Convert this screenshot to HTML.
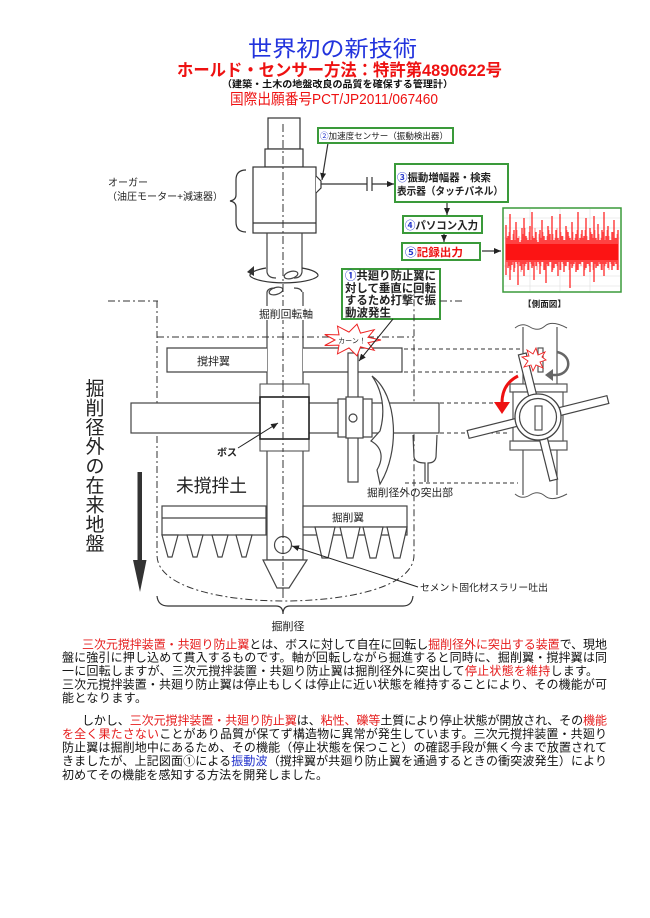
<!DOCTYPE html>
<html><head><meta charset="utf-8">
<style>
html,body{margin:0;padding:0;background:#fff;}
body{width:650px;height:918px;overflow:hidden;}
svg{display:block;font-family:"Liberation Sans","Noto Sans CJK JP",sans-serif;}
</style></head>
<body>
<svg width="650" height="918" viewBox="0 0 650 918" xmlns="http://www.w3.org/2000/svg">
<defs>
<marker id="ah" markerWidth="8" markerHeight="8" refX="7" refY="4" orient="auto" markerUnits="userSpaceOnUse">
<path d="M0,1 L7,4 L0,7 Z" fill="#222"/>
</marker>
</defs>

<!-- Title -->
<text x="332.5" y="56.5" font-size="22" fill="#2233dd" text-anchor="middle" textLength="169" lengthAdjust="spacingAndGlyphs">世界初の新技術</text>
<text x="339.5" y="76" font-size="17" font-weight="bold" fill="#ee1111" text-anchor="middle" textLength="325" lengthAdjust="spacingAndGlyphs">ホールド・センサー方法：特許第4890622号</text>
<text x="337.5" y="87.5" font-size="9.5" font-weight="bold" fill="#111" text-anchor="middle" textLength="231" lengthAdjust="spacingAndGlyphs">（建築・土木の地盤改良の品質を確保する管理計）</text>
<text x="334" y="104" font-size="15" fill="#ee1111" text-anchor="middle" textLength="208" lengthAdjust="spacingAndGlyphs">国際出願番号PCT/JP2011/067460</text>

<!-- ===== Top diagram ===== -->
<g stroke="#333" stroke-width="1.2" fill="#fff">
<rect x="268" y="118" width="32" height="31"/>
<rect x="265" y="149" width="38" height="18"/>
<rect x="253" y="167" width="63" height="66"/>
<line x1="253" y1="223" x2="316" y2="223"/>
<path d="M316,176 L321,181 L321,188 L316,193"/>
</g>
<!-- upper shaft (below auger) -->
<g stroke="#444" stroke-width="1.2" fill="none">
<path d="M267,233 V272 Q268,278 276,278 M302,233 V272 Q301,278 294,278"/>
<path d="M267,292 Q268,288 275,288 M302,292 Q301,288 294,288"/>
<line x1="267" y1="292" x2="267" y2="560"/>
<line x1="303" y1="292" x2="303" y2="560"/>
<ellipse cx="291" cy="275" rx="7" ry="3.5" transform="rotate(-15 291 275)"/>
<ellipse cx="276" cy="291" rx="7" ry="3.5" transform="rotate(-15 276 291)"/>
</g>
<!-- rotation ellipse arrow -->
<g stroke="#333" stroke-width="1.2" fill="none">
<path d="M318,276 A35,9 0 0 1 250,276"/>
<path d="M250,276 A35,9 0 0 1 266,268"/>
<path d="M302,268 A35,9 0 0 1 318,276"/>
</g>
<path d="M247,272 L254,266 L254,276 Z" fill="#333"/>

<!-- centerline -->
<line x1="283" y1="124" x2="283" y2="598" stroke="#333" stroke-width="1" stroke-dasharray="8,3,2,3"/>

<!-- brace for auger -->
<path d="M246,170 Q236,170 236,180 V195 Q236,200 230,201 Q236,202 236,207 V222 Q236,232 246,232" fill="none" stroke="#333" stroke-width="1.2"/>
<text x="108" y="186" font-size="10" fill="#222">オーガー</text>
<text x="107" y="200" font-size="10" fill="#222" textLength="116" lengthAdjust="spacingAndGlyphs">（油圧モーター+減速器）</text>

<!-- sensor line + capacitor -->
<g stroke="#333" stroke-width="1.2">
<line x1="321" y1="184" x2="367" y2="184"/>
<line x1="367" y1="177" x2="367" y2="191"/>
<line x1="372" y1="177" x2="372" y2="191"/>
<line x1="372" y1="184" x2="394" y2="184" marker-end="url(#ah)"/>
<line x1="328" y1="143" x2="322" y2="180" marker-end="url(#ah)"/>
<line x1="447" y1="202" x2="447" y2="215" marker-end="url(#ah)"/>
<line x1="444" y1="233" x2="444" y2="242" marker-end="url(#ah)"/>
<line x1="482" y1="251" x2="501" y2="251" marker-end="url(#ah)"/>
</g>

<!-- boxes -->
<g fill="#fff" stroke="#3a9a3a" stroke-width="2">
<rect x="318" y="128" width="135" height="15"/>
<rect x="395" y="164" width="113" height="38"/>
<rect x="403" y="216" width="79" height="17"/>
<rect x="402" y="243" width="78" height="17"/>
<rect x="342" y="269" width="98" height="50"/>
</g>
<text x="320" y="139" font-size="8.7" fill="#222" textLength="128" lengthAdjust="spacingAndGlyphs"><tspan fill="#2233cc">②</tspan>加速度センサー（振動検出器）</text>
<text x="397" y="181" font-size="10.5" font-weight="bold" fill="#222" textLength="94" lengthAdjust="spacingAndGlyphs"><tspan fill="#2233cc">③</tspan>振動増幅器・検索</text>
<text x="397" y="194.5" font-size="10.5" font-weight="bold" fill="#222" textLength="106" lengthAdjust="spacingAndGlyphs">表示器（タッチパネル）</text>
<text x="405" y="229" font-size="11" font-weight="bold" fill="#222" textLength="73" lengthAdjust="spacingAndGlyphs"><tspan fill="#2233cc">④</tspan>パソコン入力</text>
<text x="405" y="256" font-size="11" font-weight="bold" fill="#ee1111" textLength="58" lengthAdjust="spacingAndGlyphs"><tspan fill="#2233cc">⑤</tspan>記録出力</text>
<g font-size="11.5" font-weight="bold" fill="#222">
<text x="345" y="279.5" textLength="91" lengthAdjust="spacingAndGlyphs"><tspan fill="#2233cc">①</tspan>共廻り防止翼に</text>
<text x="345" y="292" textLength="91" lengthAdjust="spacingAndGlyphs">対して垂直に回転</text>
<text x="345" y="304" textLength="91" lengthAdjust="spacingAndGlyphs">するため打撃で振</text>
<text x="345" y="316.5" textLength="46" lengthAdjust="spacingAndGlyphs">動波発生</text>
</g>

<!-- waveform graph -->
<rect x="503" y="208" width="118" height="84" fill="#fff" stroke="#3a9a3a" stroke-width="1.5"/>
<g stroke="#ddd" stroke-width="0.6">
<line x1="504" y1="218" x2="620" y2="218"/><line x1="504" y1="228" x2="620" y2="228"/>
<line x1="504" y1="238" x2="620" y2="238"/><line x1="504" y1="266" x2="620" y2="266"/>
<line x1="504" y1="276" x2="620" y2="276"/><line x1="504" y1="286" x2="620" y2="286"/>
<line x1="530" y1="209" x2="530" y2="291"/><line x1="560" y1="209" x2="560" y2="291"/><line x1="590" y1="209" x2="590" y2="291"/>
</g>
<rect x="506" y="244" width="112" height="16" fill="#f20000"/>
<path stroke="#f00" stroke-width="1.1" fill="none" d="M506,225V275M508,236V268M510,214V280M512,240V265M514,230V272M516,222V262M518,238V285M520,242V266M522,228V270M524,218V276M526,236V264M528,240V270M530,226V262M532,212V268M534,238V280M536,232V266M538,242V262M540,230V274M542,220V262M544,236V270M546,240V283M548,226V266M550,234V262M552,216V272M554,240V268M556,230V264M558,238V276M560,214V270M562,236V262M564,240V272M566,226V266M568,232V262M570,238V288M572,222V268M574,240V264M576,234V272M578,212V270M580,238V264M582,230V262M584,236V276M586,218V268M588,240V264M590,228V272M592,234V262M594,216V282M596,238V268M598,224V266M600,240V264M602,230V270M604,212V276M606,236V264M608,226V268M610,240V262M612,232V270M614,220V266M616,238V264M618,230V270"/>
<path stroke="#f44" stroke-width="0.6" fill="none" d="M507,238V262M509,232V266M511,240V270M513,234V262M515,240V268M517,230V264M519,236V262M521,240V272M523,234V264M525,228V266M527,238V262M529,232V270M531,240V264M533,236V266M535,228V262M537,240V270M539,234V264M541,238V266M543,232V262M545,240V270M547,236V264M549,230V266M551,240V262M553,234V270M555,238V264M557,228V266M559,240V262M561,232V270M563,236V264M565,240V266M567,230V262M569,236V270M571,240V264M573,232V266M575,238V262M577,230V270M579,240V264M581,234V266M583,238V262M585,230V270M587,236V264M589,240V266M591,232V262M593,238V270M595,230V264M597,240V266M599,234V262M601,238V270M603,232V264M605,240V266M607,230V262M609,236V270M611,240V264M613,232V266M615,238V262M617,234V270"/>
<text x="523" y="307" font-size="8.5" font-weight="bold" fill="#222" textLength="43" lengthAdjust="spacingAndGlyphs">【側面図】</text>

<!-- ===== Middle diagram ===== -->
<!-- dash-dot outline -->
<g stroke="#333" stroke-width="1" fill="none" stroke-dasharray="7,3,2,3">
<line x1="108" y1="301" x2="158" y2="301"/>
<line x1="440" y1="301" x2="462" y2="301"/>
<line x1="157" y1="337" x2="414" y2="337"/>
<path d="M157,301 V555 C157,588 225,601 283,601 C345,601 414,588 414,555 V290"/>
</g>
<!-- white label on shaft -->
<rect x="258" y="306" width="58" height="14" fill="#fff"/>
<text x="286" y="317.5" font-size="10.5" fill="#222" text-anchor="middle" textLength="54" lengthAdjust="spacingAndGlyphs">掘削回転軸</text>

<!-- stirring blade -->
<g stroke="#444" stroke-width="1.2" fill="#fff">
<path d="M267,348 H167 V372 H267"/>
<path d="M303,348 H402 V372 H303"/>
</g>
<text x="197" y="365" font-size="11" fill="#222" textLength="33" lengthAdjust="spacingAndGlyphs">撹拌翼</text>

<!-- right dashed lines -->
<g stroke="#333" stroke-width="1" stroke-dasharray="4,3">
<line x1="404" y1="349" x2="520" y2="349"/>
<line x1="404" y1="372" x2="518" y2="372"/>
<line x1="440" y1="403" x2="508" y2="403"/>
<line x1="440" y1="433" x2="510" y2="433"/>
<line x1="405" y1="483" x2="518" y2="483"/>
</g>

<!-- main bar -->
<rect x="131" y="403" width="308" height="30" fill="#fff" stroke="#444" stroke-width="1.2"/>
<!-- boss -->
<rect x="260" y="384" width="49" height="67" fill="#fff" stroke="#555" stroke-width="1.1"/>
<rect x="260" y="397" width="49" height="42" fill="#fff" stroke="#222" stroke-width="1.6"/>
<line x1="283" y1="384" x2="283" y2="451" stroke="#333" stroke-width="1" stroke-dasharray="8,3,2,3"/>
<text x="217" y="456" font-size="10" font-weight="bold" fill="#222">ボス</text>
<line x1="238" y1="448" x2="278" y2="423" stroke="#222" stroke-width="1" marker-end="url(#ah)"/>

<!-- anti co-rotation blade -->
<g stroke="#444" stroke-width="1.2" fill="#fff">
<rect x="348" y="353" width="10" height="129"/>
<rect x="338" y="399" width="8" height="38"/>
<rect x="363" y="399" width="9" height="38"/>
<rect x="346" y="397" width="17" height="41"/>
<circle cx="353" cy="418" r="4"/>
<path d="M372,376 C398,395 400,452 380,484 L377,470 C384,458 382,447 371,441 L380,431 C386,410 382,390 372,376 Z"/>
<path d="M413,435 L414,457 Q415,463 425,463 L425,482 M437,435 L436,457 Q435,463 428,463 L428,482" fill="none"/>
</g>
<text x="367" y="496" font-size="10.5" fill="#222" textLength="86" lengthAdjust="spacingAndGlyphs">掘削径外の突出部</text>

<!-- starburst -->
<polygon points="381,340 368,342.7 374.2,350.3 360.5,346.9 357,355.8 349,347.9 337.5,353.9 339,345.1 324.7,345.5 335,340 324.7,334.5 339,334.9 337.5,326.1 349,332.1 357,324.2 360.5,333.1 374.2,329.7 368,337.3" fill="#fff" stroke="#e22" stroke-width="1"/>
<text x="352" y="343" font-size="7" fill="#222" text-anchor="middle">カーン！</text>
<line x1="393" y1="319" x2="359" y2="361" stroke="#222" stroke-width="1" marker-end="url(#ah)"/>

<!-- vertical text -->
<g font-size="19" fill="#222" text-anchor="middle">
<text x="95" y="395">掘</text><text x="95" y="414.4">削</text><text x="95" y="433.8">径</text>
<text x="95" y="453.2">外</text><text x="95" y="472.6">の</text><text x="95" y="492">在</text>
<text x="95" y="511.4">来</text><text x="95" y="530.8">地</text><text x="95" y="550.2">盤</text>
</g>
<!-- black arrow -->
<rect x="137.5" y="472" width="4.5" height="90" fill="#333"/>
<polygon points="133,560 146.5,560 140,592" fill="#333"/>

<text x="176" y="492" font-size="18" fill="#222" textLength="71" lengthAdjust="spacingAndGlyphs">未撹拌土</text>

<!-- bottom blades -->
<g stroke="#444" stroke-width="1.2" fill="#fff">
<rect x="162" y="506" width="104" height="29"/>
<line x1="162" y1="518" x2="266" y2="518"/>
<path d="M303,535 H407 V527"/>
<rect x="303" y="506" width="104" height="21"/>
<polygon points="162,535 178,535 172,557 168,557"/>
<polygon points="187,535 203,535 197,557 193,557"/>
<polygon points="212,535 228,535 222,557 218,557"/>
<polygon points="236,535 252,535 246,557 242,557"/>
<polygon points="315,527 335,527 328,558 322,558"/>
<polygon points="340,527 360,527 353,558 347,558"/>
<polygon points="363,527 383,527 376,558 370,558"/>
<polygon points="387,527 407,527 400,558 394,558"/>
<line x1="267" y1="560" x2="303" y2="560"/>
<polygon points="263,560 307,560 289,588 277,588"/>
<circle cx="283" cy="545" r="8.5"/>
</g>
<line x1="283" y1="530" x2="283" y2="598" stroke="#333" stroke-width="1" stroke-dasharray="8,3,2,3"/>
<text x="332" y="521" font-size="10.5" fill="#222" textLength="32" lengthAdjust="spacingAndGlyphs">掘削翼</text>
<line x1="418" y1="587" x2="292" y2="546" stroke="#222" stroke-width="1" marker-end="url(#ah)"/>
<text x="420" y="591" font-size="9.8" fill="#222" textLength="128" lengthAdjust="spacingAndGlyphs">セメント固化材スラリー吐出</text>

<!-- brace bottom -->
<path d="M157,596 Q158,606 168,606 H276 Q283,606 283,614 Q283,606 290,606 H403 Q412,606 413,596" fill="none" stroke="#333" stroke-width="1.2"/>
<text x="288" y="630" font-size="11" fill="#222" text-anchor="middle" textLength="33" lengthAdjust="spacingAndGlyphs">掘削径</text>

<!-- ===== Right side view ===== -->
<g stroke="#555" stroke-width="1.2" fill="#fff">
<rect x="523" y="327" width="34" height="168" stroke="none"/>
<line x1="523" y1="327" x2="523" y2="495"/>
<line x1="557" y1="327" x2="557" y2="495"/>
<path d="M515,328 Q522,322 530,327 T545,326 T567,328" fill="none" stroke-width="1"/>
<path d="M515,494 Q522,500 530,495 T545,496 T567,494" fill="none" stroke-width="1"/>
<rect x="510" y="384" width="57" height="8"/>
<rect x="510" y="441" width="57" height="9"/>
<rect x="513" y="392" width="50" height="49"/>
<rect x="538" y="348" width="5" height="24"/>
</g>
<g transform="rotate(-14 538 417)" stroke="#444" stroke-width="1.2" fill="#fff">
<rect x="466" y="413" width="144" height="8"/>
<rect x="534" y="352" width="8" height="130"/>
</g>
<circle cx="538" cy="417" r="23" fill="#fff" stroke="#444" stroke-width="1.3"/>
<circle cx="538" cy="417" r="18.5" fill="#fff" stroke="#444" stroke-width="1.2"/>
<rect x="535" y="406" width="7" height="24" fill="#fff" stroke="#444" stroke-width="1.1"/>
<polygon points="546,360 540,362 543,368 536,365 533,371 531,365 524,367 528,361 522,357 529,356 527,350 533,354 536,348 538,355 545,352 542,357" fill="#fff" stroke="#e22" stroke-width="0.9"/>
<!-- gray rotation arrow -->
<path d="M557,352 C572,355 572,373 557,375 L551,375" fill="none" stroke="#666" stroke-width="2.5"/>
<path d="M553,369 L545,375 L553,381 Z" fill="#666"/>
<!-- red arrow -->
<path d="M518,376 Q502,384 502,403" fill="none" stroke="#e11" stroke-width="3"/>
<polygon points="494,402 510,402 502,414" fill="#e11"/>

<!-- ===== Paragraphs ===== -->
<g font-size="12" fill="#111">
<text x="82" y="648.5" textLength="525"><tspan fill="#e51c1c">三次元撹拌装置・共廻り防止翼</tspan>とは、ボスに対して自在に回転し<tspan fill="#e51c1c">掘削径外に突出する装置</tspan>で、現地</text>
<text x="62" y="661.5" textLength="545">盤に強引に押し込めて貫入するものです。軸が回転しながら掘進すると同時に、掘削翼・撹拌翼は同</text>
<text x="62" y="675" textLength="536">一に回転しますが、三次元撹拌装置・共廻り防止翼は掘削径外に突出して<tspan fill="#e51c1c">停止状態を維持</tspan>します。</text>
<text x="62" y="688.5" textLength="545">三次元撹拌装置・共廻り防止翼は停止もしくは停止に近い状態を維持することにより、その機能が可</text>
<text x="62" y="702" textLength="85">能となります。</text>

<text x="82" y="724.5" textLength="525">しかし、<tspan fill="#e51c1c">三次元撹拌装置・共廻り防止翼</tspan>は、<tspan fill="#e51c1c">粘性、礫等</tspan>土質により停止状態が開放され、その<tspan fill="#e51c1c">機能</tspan></text>
<text x="62" y="738" textLength="545"><tspan fill="#e51c1c">を全く果たさない</tspan>ことがあり品質が保てず構造物に異常が発生しています。三次元撹拌装置・共廻り</text>
<text x="62" y="751.5" textLength="545">防止翼は掘削地中にあるため、その機能（停止状態を保つこと）の確認手段が無く今まで放置されて</text>
<text x="62" y="765" textLength="545">きましたが、上記図面①による<tspan fill="#2233cc">振動波</tspan>（撹拌翼が共廻り防止翼を通過するときの衝突波発生）により</text>
<text x="62" y="779" textLength="266">初めてその機能を感知する方法を開発しました。</text>
</g>
</svg>
</body></html>
